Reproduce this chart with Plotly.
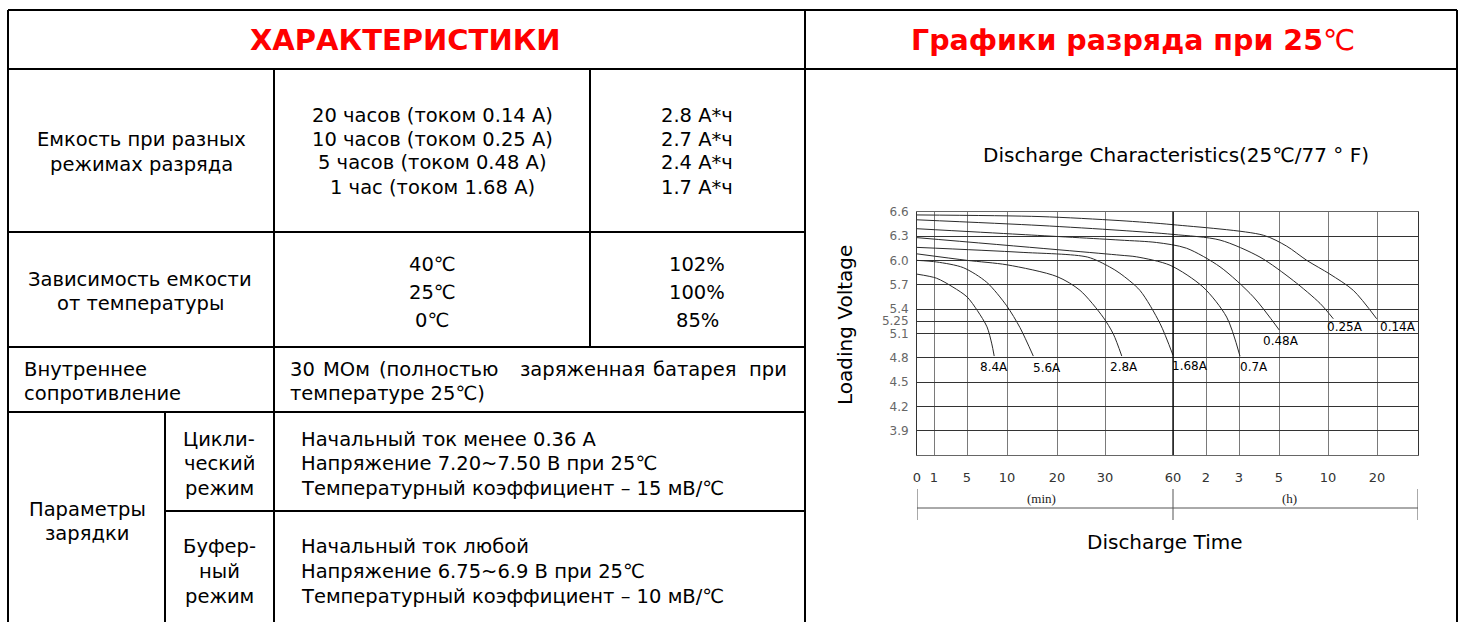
import numpy as np
import plotly.graph_objects as go

W, H = 1464, 622

# ---------------- data ----------------
TITLE_LEFT = "ХАРАКТЕРИСТИКИ"
TITLE_RIGHT = "Графики разряда при 25"
CAP_LABEL = ["Емкость при разных", "режимах разряда"]
CAP_MODES = ["20 часов (током 0.14 А)", "10 часов (током 0.25 А)",
             "5 часов (током 0.48 А)", "1 час (током 1.68 А)"]
CAP_VALUES = ["2.8 А*ч", "2.7 А*ч", "2.4 А*ч", "1.7 А*ч"]
TEMP_LABEL = ["Зависимость емкости", "от температуры"]
TEMPS = ["40℃", "25℃", "0℃"]
TEMP_CAP = ["102%", "100%", "85%"]
RES_LABEL = ["Внутреннее", "сопротивление"]
RES_WORDS = ["30", "МОм", "(полностью", "заряженная", "батарея", "при"]
RES_LINE2 = "температуре 25℃)"
CHARGE_LABEL = ["Параметры", "зарядки"]
CYCLIC_LABEL = ["Цикли-", "ческий", "режим"]
CYCLIC_TEXT = ["Начальный ток менее 0.36 А",
               "Напряжение 7.20~7.50 В при 25℃",
               "Температурный коэффициент – 15 мВ/℃"]
BUFFER_LABEL = ["Буфер-", "ный", "режим"]
BUFFER_TEXT = ["Начальный ток любой",
               "Напряжение 6.75~6.9 В при 25℃",
               "Температурный коэффициент – 10 мВ/℃"]

CHART_TITLE = "Discharge Characteristics(25℃/77 ° F)"
Y_TITLE = "Loading Voltage"
X_TITLE = "Discharge Time"
Y_TICKS = [3.9, 4.2, 4.5, 4.8, 5.1, 5.25, 5.4, 5.7, 6.0, 6.3, 6.6]
Y_TICK_TEXT = ["3.9", "4.2", "4.5", "4.8", "5.1", "5.25", "5.4", "5.7", "6.0", "6.3", "6.6"]
T_TICK_MIN = [0, 1, 5, 10, 20, 30, 60, 120, 180, 300, 600, 1200]
T_TICK_TEXT = ["0", "1", "5", "10", "20", "30", "60", "2", "3", "5", "10", "20"]
UNIT_MIN = "(min)"
UNIT_H = "(h)"

CURRENTS = ["8.4A", "5.6A", "2.8A", "1.68A", "0.7A", "0.48A", "0.25A", "0.14A"]
# discharge time (minutes) and voltage (V) for each current
T_84 = [0, 1.3, 3.3, 5.0, 6.3, 7.5, 8.1, 8.4]
V_84 = [5.83, 5.78, 5.67, 5.55, 5.38, 5.18, 4.97, 4.82]
T_56 = [0, 1.33, 4.55, 7.46, 9.96, 12.6, 15.26]
V_56 = [6.0, 5.98, 5.91, 5.73, 5.44, 5.17, 4.82]
T_28 = [0, 5, 10, 20, 24.8, 29.6, 33.7, 37.4]
V_28 = [6.08, 6.0, 5.945, 5.80, 5.63, 5.30, 5.09, 4.82]
T_168 = [0, 12.6, 26.4, 32, 36.6, 45.4, 54.3, 60]
V_168 = [6.16, 6.10, 6.04, 5.92, 5.84, 5.63, 5.22, 4.83]
T_07 = [0, 36.6, 44, 58.7, 114.5, 157.6, 183]
V_07 = [6.28, 6.064, 6.043, 5.94, 5.672, 5.30, 4.818]
T_048 = [0, 12.6, 36.6, 52.8, 84.4, 145.5, 223, 302]
V_048 = [6.39, 6.32, 6.25, 6.22, 6.15, 5.92, 5.55, 5.14]
T_025 = [0, 16.6, 36.6, 60, 145.5, 243, 388, 551, 665]
V_025 = [6.50, 6.43, 6.37, 6.32, 6.25, 6.04, 5.75, 5.47, 5.28]
T_014 = [0, 16.6, 36.6, 60, 253, 347, 470, 624, 910, 1196]
V_014 = [6.56, 6.54, 6.49, 6.44, 6.31, 6.175, 6.0, 5.83, 5.63, 5.28]
CURVE_T = [T_84, T_56, T_28, T_168, T_07, T_048, T_025, T_014]
CURVE_V = [V_84, V_56, V_28, V_168, V_07, V_048, V_025, V_014]

# ---------------- layout helpers ----------------
# the printed time axis is a hand-drawn uneven scale: position of each tick on it
X_SCALE = [0, 17, 50, 90, 140, 188, 256, 289, 322, 362, 411, 460]
X_END = 501


def t2x(t):
    return np.interp(np.asarray(t, dtype=float), T_TICK_MIN, X_SCALE)


def px(x):
    return x / W


def py(y):
    return 1 - y / H


FONT = "DejaVu Sans"
BODY = dict(family=FONT, size=19.5, color="black")

fig = go.Figure()

for name, ts, vs in zip(CURRENTS, CURVE_T, CURVE_V):
    fig.add_trace(go.Scatter(
        x=t2x(ts), y=vs, mode="lines", name=name,
        line=dict(color="#2a2a2a", width=1, shape="spline", smoothing=0.8),
        hoverinfo="skip", showlegend=False))

shapes = []


def hline(x0, x1, y, w=2, c="black"):
    shapes.append(dict(type="line", xref="paper", yref="paper",
                       x0=px(x0), x1=px(x1), y0=py(y), y1=py(y),
                       line=dict(color=c, width=w)))


def vline(x, y0, y1, w=2, c="black"):
    shapes.append(dict(type="line", xref="paper", yref="paper",
                       x0=px(x), x1=px(x), y0=py(y0), y1=py(y1),
                       line=dict(color=c, width=w)))


# table frame
hline(8, 1457, 10)
hline(8, 1457, 69)
vline(8, 10, 640)
vline(1457, 10, 640)
vline(805, 10, 640)
hline(8, 805, 232)
hline(8, 805, 347)
hline(8, 805, 412)
hline(165, 805, 511)
vline(274, 69, 640)
vline(590, 69, 347)
vline(165, 412, 640)

# chart decorations: 60-min divider and bracket below ticks
shapes.append(dict(type="line", xref="x", yref="y domain", x0=X_SCALE[6], x1=X_SCALE[6],
                   y0=0, y1=1, line=dict(color="black", width=1.3)))
for xv in [0, X_SCALE[6], X_END]:
    shapes.append(dict(type="line", xref="x", yref="paper", x0=xv, x1=xv,
                       y0=py(489), y1=py(520), line=dict(color="#555", width=1)))
shapes.append(dict(type="line", xref="x", yref="paper", x0=0, x1=X_END,
                   y0=py(508), y1=py(508), line=dict(color="#555", width=1)))

ann = []


def text(x, y, s, xanchor="center", font=None, **kw):
    ann.append(dict(xref="paper", yref="paper", x=px(x), y=py(y), text=s,
                    showarrow=False, xanchor=xanchor, yanchor="middle",
                    font=font or BODY, **kw))


RED = dict(family=FONT, size=29, color="#ff0000")
RED2 = dict(family=FONT, size=28.5, color="#ff0000")
text(406, 40, "<b>" + TITLE_LEFT + "</b>", font=RED)
text(1133, 40, "<b>" + TITLE_RIGHT + "</b>℃", font=RED2)

for i, s in enumerate(CAP_LABEL):
    text(141, 140 + 24 * i, s)
for i, s in enumerate(CAP_MODES):
    text(432, 115 + 24 * i, s)
for i, s in enumerate(CAP_VALUES):
    text(697, 115 + 24 * i, s)

for i, s in enumerate(TEMP_LABEL):
    text(140, 279 + 24 * i, s)
for i, s in enumerate(TEMPS):
    text(432, 264 + 28 * i, s)
for i, s in enumerate(TEMP_CAP):
    text(697, 264 + 28 * i, s)

for i, s in enumerate(RES_LABEL):
    text(22, 369 + 24 * i, s, xanchor="left")
word_x = [288, 321, 377, 518, 651, 789]
for i, (s, xw) in enumerate(zip(RES_WORDS, word_x)):
    text(xw, 369, s, xanchor="right" if i == len(RES_WORDS) - 1 else "left")
text(288, 393, RES_LINE2, xanchor="left")

for i, s in enumerate(CHARGE_LABEL):
    text(87, 509 + 24 * i, s)
for i, s in enumerate(CYCLIC_LABEL):
    text(219, 439 + 24.5 * i, s)
for i, s in enumerate(CYCLIC_TEXT):
    text(299, 439 + 24.5 * i, s, xanchor="left")
for i, s in enumerate(BUFFER_LABEL):
    text(219, 546 + 25 * i, s)
for i, s in enumerate(BUFFER_TEXT):
    text(299, 546 + 25 * i, s, xanchor="left")

AX = dict(family=FONT, size=20, color="black")
text(1176, 155, CHART_TITLE, font=AX)
text(1164, 542, X_TITLE, font=AX)
text(845, 325, Y_TITLE, font=AX, textangle=-90)

SERIF = dict(family="Liberation Serif", size=13, color="#222")
ann.append(dict(xref="x", yref="paper", x=X_SCALE[6] / 2 - 4, y=py(498), text=UNIT_MIN,
                showarrow=False, font=SERIF, yanchor="middle"))
ann.append(dict(xref="x", yref="paper", x=(X_SCALE[6] + X_END) / 2 - 6, y=py(498), text=UNIT_H,
                showarrow=False, font=SERIF, yanchor="middle"))

# current labels at the end of each curve
LBL = dict(family=FONT, size=12, color="black")
label_style = {
    "8.4A": ("center", 0, -11), "5.6A": ("left", -2, -12), "2.8A": ("center", 2, -11),
    "1.68A": ("left", -3, -11), "0.7A": ("left", -2, -11), "0.48A": ("center", 2, -11),
    "0.25A": ("left", -8, -8), "0.14A": ("left", 1, -8),
}
for name, ts, vs in zip(CURRENTS, CURVE_T, CURVE_V):
    xa, xs, ys = label_style[name]
    ann.append(dict(xref="x", yref="y", x=float(t2x(ts[-1])), y=vs[-1], text=name,
                    showarrow=False, xanchor=xa, yanchor="middle", xshift=xs, yshift=ys,
                    font=LBL))

fig.update_layout(
    width=W, height=H, margin=dict(l=0, r=0, t=0, b=0, pad=0, autoexpand=False),
    paper_bgcolor="white", plot_bgcolor="white",
    shapes=shapes, annotations=ann, showlegend=False,
    xaxis=dict(domain=[px(917), px(1418)], range=[0, X_END],
               tickmode="array", tickvals=X_SCALE, ticktext=T_TICK_TEXT,
               showgrid=True, gridcolor="#7a7a7a", gridwidth=1, zeroline=False,
               showline=True, linecolor="#666", linewidth=1, mirror=True,
               ticks="", ticklabelstandoff=10,
               tickfont=dict(family=FONT, size=13, color="#333"), fixedrange=True),
    yaxis=dict(domain=[py(455), py(211.7)], range=[3.6, 6.6],
               tickmode="array", tickvals=Y_TICKS, ticktext=Y_TICK_TEXT,
               showgrid=True, gridcolor="#333", gridwidth=1, zeroline=False,
               showline=True, linecolor="#333", linewidth=1, mirror=True,
               ticks="", ticklabelstandoff=5,
               tickfont=dict(family=FONT, size=12, color="#666"), fixedrange=True),
)

fig.write_html("out.html", config={"displayModeBar": False},
               post_script="document.body.style.margin='0';"
                           "document.body.style.overflow='hidden';")
